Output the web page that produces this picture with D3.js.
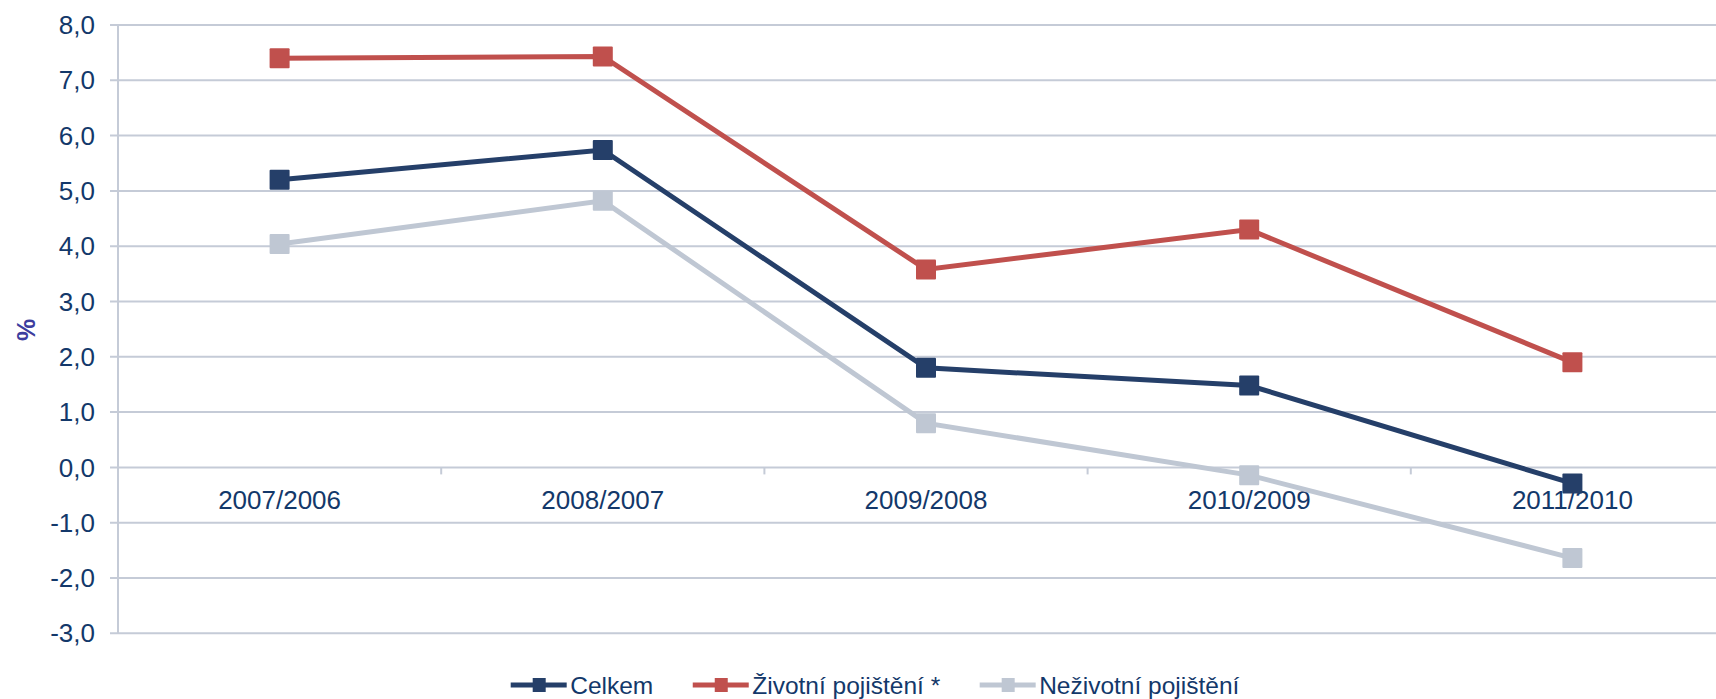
<!DOCTYPE html>
<meta charset="utf-8">
<style>
  body { margin: 0; background: #fff; }
  text { font-family: "Liberation Sans", Arial, sans-serif; }
  .grid line { stroke: #c5cbd7; stroke-width: 2px; }
  .tick-label { fill: #13386a; font-size: 26px; }
  .legend text { fill: #13386a; font-size: 24.5px; }
</style>
<body>
<svg id="chart"></svg>
<script src="https://cdn.jsdelivr.net/npm/d3@7"></script>
<script>
  var width = 1716,
    height = 699;

  var categories = ["2007/2006", "2008/2007", "2009/2008", "2010/2009", "2011/2010"];
  var seriesNames = ["Celkem", "Životní pojištění *", "Neživotní pojištění"];
  var seriesColors = ["#253f69", "#c0504d", "#bfc7d3"];
  var celkem = [5.20, 5.74, 1.80, 1.48, -0.29];
  var zivotni = [7.40, 7.43, 3.58, 4.30, 1.90];
  var nezivotni = [4.04, 4.82, 0.80, -0.14, -1.64];
  var yTicks = [8, 7, 6, 5, 4, 3, 2, 1, 0, -1, -2, -3];

  var series = [celkem, zivotni, nezivotni].map(function (vals, i) {
    return { name: seriesNames[i], color: seriesColors[i], values: vals };
  });

  var svg = d3.select("#chart")
    .attr("width", width)
    .attr("height", height);

  var left = 118;

  var x = d3.scaleBand()
    .domain(categories)
    .range([left, 1734]);

  var y = d3.scaleLinear()
    .domain([-3, 8])
    .range([633.3, 25]);

  var cx = function (d) { return x(d) + x.bandwidth() / 2; };

  // gridlines
  var grid = svg.append("g").attr("class", "grid");
  grid.selectAll("line.h")
    .data(yTicks)
    .enter().append("line")
    .attr("class", "h")
    .attr("x1", left - 8)
    .attr("x2", width + 20)
    .attr("y1", function (d) { return y(d); })
    .attr("y2", function (d) { return y(d); });

  // y axis line
  grid.append("line")
    .attr("x1", left).attr("x2", left)
    .attr("y1", y(8)).attr("y2", y(-3));

  // category ticks on zero line
  grid.selectAll("line.ct")
    .data(categories.slice(1))
    .enter().append("line")
    .attr("class", "ct")
    .attr("x1", function (d) { return x(d); })
    .attr("x2", function (d) { return x(d); })
    .attr("y1", y(0))
    .attr("y2", y(0) + 7);

  // y tick labels
  svg.append("g").selectAll("text")
    .data(yTicks)
    .enter().append("text")
    .attr("class", "tick-label")
    .attr("x", 95)
    .attr("y", function (d) { return y(d); })
    .attr("dy", "0.35em")
    .attr("text-anchor", "end")
    .text(function (d) { return d3.format(".1f")(d).replace(".", ",").replace("−", "-"); });

  // category labels
  svg.append("g").selectAll("text")
    .data(categories)
    .enter().append("text")
    .attr("class", "tick-label")
    .attr("x", cx)
    .attr("y", y(0) + 42)
    .attr("text-anchor", "middle")
    .text(function (d) { return d; });

  // y axis title
  svg.append("text")
    .attr("transform", "translate(26,330) rotate(-90)")
    .attr("text-anchor", "middle")
    .attr("dy", "0.35em")
    .style("font-size", "25px")
    .style("font-weight", "bold")
    .style("fill", "#3d3d9e")
    .text("%");

  var line = d3.line()
    .x(function (d, i) { return cx(categories[i]); })
    .y(function (d) { return y(d); });

  var s = svg.append("g").selectAll("g")
    .data(series)
    .enter().append("g");

  s.append("path")
    .attr("d", function (d) { return line(d.values); })
    .attr("fill", "none")
    .attr("stroke", function (d) { return d.color; })
    .attr("stroke-width", 5);

  s.each(function (d) {
    d3.select(this).selectAll("rect")
      .data(d.values)
      .enter().append("rect")
      .attr("x", function (v, i) { return cx(categories[i]) - 10; })
      .attr("y", function (v) { return y(v) - 10; })
      .attr("width", 20)
      .attr("height", 20)
      .attr("rx", 1)
      .attr("fill", d.color);
  });

  // legend
  var legend = svg.append("g").attr("class", "legend");
  var lx = 510.7, ly = 685;
  series.forEach(function (d) {
    var item = legend.append("g");
    item.append("line")
      .attr("x1", lx).attr("x2", lx + 56)
      .attr("y1", ly).attr("y2", ly)
      .attr("stroke", d.color)
      .attr("stroke-width", 5);
    item.append("rect")
      .attr("x", lx + 22).attr("y", ly - 7)
      .attr("width", 13).attr("height", 14)
      .attr("fill", d.color);
    var t = item.append("text")
      .attr("x", lx + 59.5)
      .attr("y", ly + 8.5)
      .text(d.name);
    lx = lx + 59.5 + t.node().getComputedTextLength() + 39.5;
  });
</script>
</body>
